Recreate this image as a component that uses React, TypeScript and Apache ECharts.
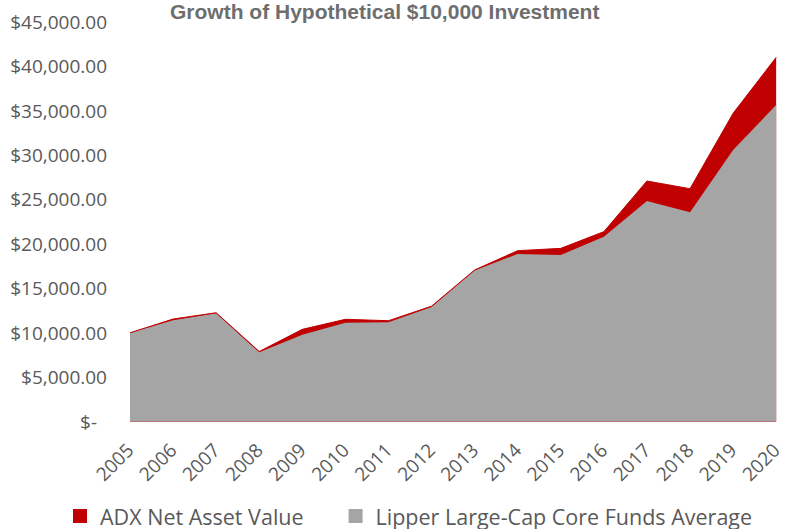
import React, { useEffect, useRef } from "react";
import * as echarts from "echarts";

const years = ["2005", "2006", "2007", "2008", "2009", "2010", "2011", "2012", "2013", "2014", "2015", "2016", "2017", "2018", "2019", "2020"];
const adxNav = [10000, 11550, 12260, 7900, 10390, 11520, 11360, 13000, 17070, 19240, 19500, 21380, 27080, 26210, 34690, 40990];
const lipperAvg = [10000, 11400, 12200, 7800, 9790, 11140, 11180, 12900, 17000, 18880, 18750, 20800, 24830, 23560, 30570, 35630];

const FONT = "'Open Sans', sans-serif";
const TXT = "#595959";

export default function App() {
  const ref = useRef<HTMLDivElement>(null);
  useEffect(() => {
    if (!ref.current) return;
    const chart = echarts.init(ref.current, undefined, { renderer: "svg" });
    chart.setOption({
      animation: false,
      backgroundColor: "#ffffff",
      title: {
        text: "Growth of Hypothetical $10,000 Investment",
        left: 170,
        top: 1,
        padding: 0,
        textStyle: { fontFamily: "'Liberation Sans', Arial, sans-serif", fontWeight: "bold", fontSize: 21, color: "#6E6E6E" },
      },
      legend: {
        left: 73,
        top: 505,
        padding: 0,
        itemWidth: 14,
        itemHeight: 14,
        itemGap: 45,
        icon: "rect",
        textStyle: { fontFamily: FONT, fontSize: 21.5, color: TXT, padding: [0, 0, 0, 8] },
        data: ["ADX Net Asset Value", "Lipper Large-Cap Core Funds Average"],
      },
      grid: { left: 130, right: 4, top: 21.7, bottom: 107.3, containLabel: false },
      xAxis: {
        type: "category",
        data: years,
        boundaryGap: false,
        axisLine: { show: false },
        axisTick: { show: false },
        axisLabel: { rotate: 45, margin: 25, fontFamily: FONT, fontSize: 19, color: TXT, interval: 0 },
      },
      yAxis: {
        type: "value",
        min: 0,
        max: 45000,
        interval: 5000,
        axisLine: { show: false },
        axisTick: { show: false },
        splitLine: { show: false },
        axisLabel: {
          margin: 23,
          fontFamily: FONT,
          fontSize: 19,
          color: TXT,
          formatter: (v: number) =>
            v === 0
              ? "{z|$-}"
              : "$" + v.toLocaleString("en-US", { minimumFractionDigits: 2, maximumFractionDigits: 2 }),
          rich: { z: { fontFamily: FONT, fontSize: 19, color: TXT, padding: [0, 10, 0, 0] } },
        },
      },
      series: [
        {
          name: "ADX Net Asset Value",
          type: "line",
          data: adxNav,
          showSymbol: false,
          itemStyle: { color: "#C00000" },
          lineStyle: { color: "#C00000", width: 1 },
          areaStyle: { color: "#C00000", opacity: 1 },
        },
        {
          name: "Lipper Large-Cap Core Funds Average",
          type: "line",
          data: lipperAvg,
          showSymbol: false,
          itemStyle: { color: "#A5A5A5" },
          lineStyle: { width: 0 },
          areaStyle: { color: "#A5A5A5", opacity: 1 },
        },
      ],
    });
    return () => chart.dispose();
  }, []);
  return <div ref={ref} style={{ width: 785, height: 529, position: "absolute", left: 0, top: 0 }} />;
}
